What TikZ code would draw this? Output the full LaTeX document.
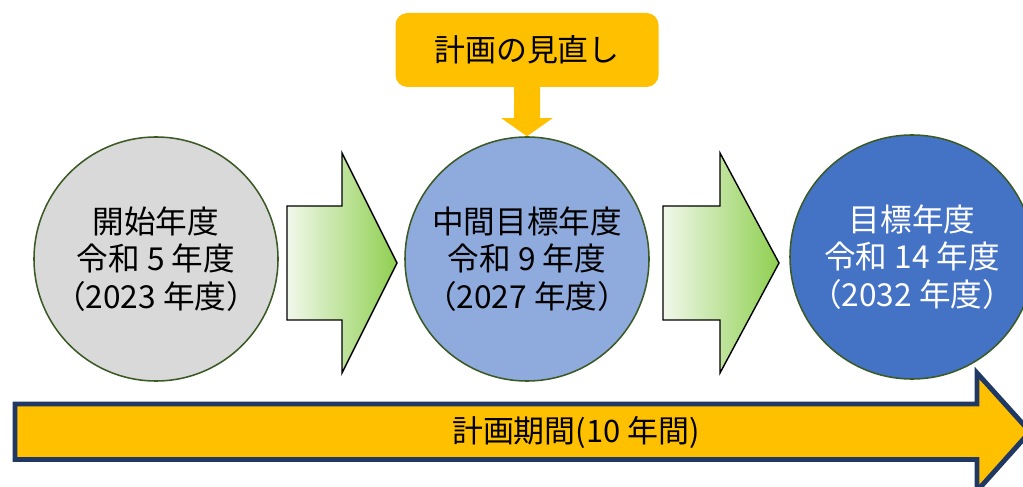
\documentclass[tikz,border=0pt]{standalone}
\usepackage{fontspec}
\setmainfont{Noto Sans CJK JP}
\definecolor{circgray}{HTML}{D9D9D9}
\definecolor{circlight}{HTML}{8FAADC}
\definecolor{circblue}{HTML}{4472C4}
\definecolor{circline}{HTML}{3B5A26}
\definecolor{greenA}{HTML}{F1F8EB}
\definecolor{greenB}{HTML}{8FCF50}
\definecolor{gold}{HTML}{FFC000}
\definecolor{navy}{HTML}{203864}

\begin{document}
\begin{tikzpicture}[
    year/.style={circle, draw=circline, line width=1.1pt, minimum size=6.1cm,
      inner sep=0pt, align=center, font=\fontsize{22.5}{26.5}\selectfont},
    stagearrow/.style={draw=black, line width=1pt, line join=miter,
      left color=greenA, right color=greenB}
  ]
  \useasboundingbox (0,0) rectangle (25.575,12.15);
  \clip (0,0) rectangle (25.575,12.15);
  % Circles
  \node[year, fill=circgray] (kaishi) at (3.9,5.675) {開始年度\\令和 5 年度\\（2023 年度）};
  \node[year, fill=circlight] (chukan) at (13.175,5.675) {中間目標年度\\令和 9 年度\\（2027 年度）};
  \node[year, fill=circblue, text=white] (mokuhyo) at (22.8,5.725) {目標年度\\令和 14 年度\\（2032 年度）};
  % Green arrows
  \draw[stagearrow] (7.175,4.15) -- (7.175,7.0) -- (8.55,7.0) -- (8.55,8.325)
    -- (9.925,5.575) -- (8.55,2.825) -- (8.55,4.15) -- cycle;
  \draw[stagearrow] (16.575,4.15) -- (16.575,7.0) -- (18.0,7.0) -- (18.0,8.325)
    -- (19.475,5.575) -- (18.0,2.825) -- (18.0,4.15) -- cycle;
  % Review box
  \node[fill=gold, rounded corners=0.3cm, minimum width=6.575cm, minimum height=1.85cm,
    font=\fontsize{22}{26}\selectfont] (minaoshi) at (13.175,10.9) {計画の見直し};
  \fill[gold] ([xshift=-0.325cm,yshift=0.05cm]minaoshi.south)
    -- ([xshift=-0.325cm,yshift=0.45cm]chukan.north)
    -- ([xshift=-0.64cm,yshift=0.45cm]chukan.north) -- (chukan.north)
    -- ([xshift=0.64cm,yshift=0.45cm]chukan.north)
    -- ([xshift=0.325cm,yshift=0.45cm]chukan.north)
    -- ([xshift=0.325cm,yshift=0.05cm]minaoshi.south) -- cycle;
  % Plan period
  \draw[line width=3.5pt, draw=navy, fill=gold, line join=miter]
    (0.375,0.6625) -- (0.375,2.05) -- (24.425,2.05) -- (24.425,2.825)
    -- (25.75,1.356) -- (24.425,-0.125) -- (24.425,0.6625) -- cycle;
  \node[font=\fontsize{22}{26}\selectfont] (kikan) at (14.4,1.35) {計画期間(10 年間)};
\end{tikzpicture}
\end{document}
